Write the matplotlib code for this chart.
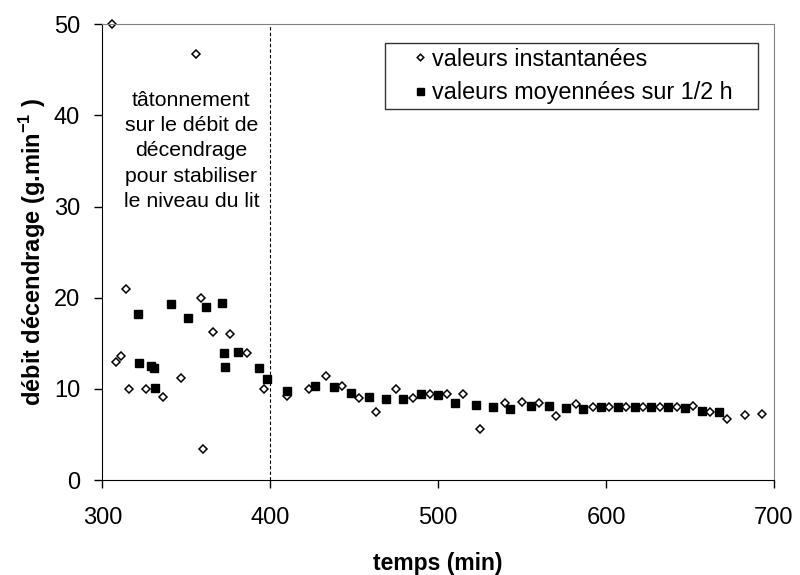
import numpy as np
import matplotlib
matplotlib.use("Agg")
import matplotlib.pyplot as plt

# valeurs instantanees (losanges)
inst_t = [306, 308, 311, 314, 316, 326, 336, 347, 356, 359, 360, 366, 376, 386, 396,
          410, 423, 433, 443, 453, 463, 475, 485, 495, 505, 515, 525, 540, 550, 560,
          570, 582, 592, 602, 612, 622, 632, 642, 652, 662, 672, 683, 693]
inst_v = [50.0, 13.0, 13.6, 21.0, 10.0, 10.0, 9.1, 11.2, 46.7, 20.0, 3.45, 16.2, 16.0, 13.9, 10.0,
          9.2, 10.0, 11.4, 10.3, 9.0, 7.5, 10.0, 9.0, 9.4, 9.45, 9.45, 5.6, 8.5, 8.6, 8.5,
          7.0, 8.3, 8.0, 8.0, 8.0, 8.0, 8.0, 8.0, 8.1, 7.45, 6.75, 7.15, 7.3]

# valeurs moyennees sur 1/2 h (carres)
avg_t = [321, 322, 329, 330.5, 331.5, 341, 351, 361.5, 371, 372.5, 373, 381, 393, 398, 410,
         426.5, 438, 448, 459, 469, 479, 490, 500, 510, 522.5, 532.5, 542.5, 555, 566, 576,
         586, 597, 607, 617, 627, 637, 647, 657, 667]
avg_v = [18.2, 12.8, 12.5, 12.3, 10.1, 19.3, 17.8, 19.0, 19.4, 13.9, 12.4, 14.0, 12.3, 11.1, 9.8,
         10.3, 10.2, 9.6, 9.15, 8.9, 8.95, 9.45, 9.35, 8.5, 8.25, 8.0, 7.8, 8.15, 8.1, 7.95,
         7.8, 8.05, 8.0, 8.0, 8.0, 8.05, 7.9, 7.6, 7.45]

x_ticks = [300, 400, 500, 600, 700]
y_ticks = [0, 10, 20, 30, 40, 50]
t_limit = 400

plt.rcParams['font.family'] = ['Liberation Sans', 'DejaVu Sans']
plt.rcParams['mathtext.fontset'] = 'custom'
plt.rcParams['mathtext.rm'] = 'Liberation Sans'
plt.rcParams['mathtext.bf'] = 'Liberation Sans:bold'

fig = plt.figure(figsize=(8, 5.75), dpi=100)
ax = fig.add_axes([0.128, 0.165, 0.8395, 0.793])

ax.plot(inst_t, inst_v, linestyle='none', marker='D', ms=4.2, mfc='white',
        mec='black', mew=1.1, label='valeurs instantanées', clip_on=False)
ax.plot(avg_t, avg_v, linestyle='none', marker='s', ms=6.3, mfc='black',
        mec='black', label='valeurs moyennées sur 1/2 h')

ax.axvline(t_limit, color='black', lw=0.8, linestyle=(0, (3, 2)))

ax.text(353, 36.1, "tâtonnement\nsur le débit de\ndécendrage\npour stabiliser\nle niveau du lit",
        ha='center', va='center', fontsize=15.3, linespacing=1.42)

ax.set_xlim(300, 700)
ax.set_ylim(0, 50)
ax.set_xticks(x_ticks)
ax.set_yticks(y_ticks)
ax.tick_params(axis='both', direction='out', length=6, width=1, labelsize=17, pad=10)
ax.tick_params(axis='x', pad=13)

for s in ['left', 'bottom']:
    ax.spines[s].set_color('black')
for s in ['top', 'right']:
    ax.spines[s].set_color('#808080')

ax.set_xlabel('temps (min)', fontsize=16.5, fontweight='bold', labelpad=17)
ax.set_ylabel(r'débit décendrage (g.min$^{\mathbf{-1}}$ )', fontsize=17, fontweight='bold', labelpad=4)

leg = ax.legend(loc='upper left', bbox_to_anchor=(0.421, 0.808, 0.555, 0.151), mode='expand',
                borderaxespad=0, fontsize=16.8, frameon=True, fancybox=False,
                edgecolor='black', handlelength=2.6, handletextpad=-0.8,
                borderpad=0.2, labelspacing=0.45, markerscale=0.8)
leg.get_frame().set_linewidth(1.0)

fig.savefig('out.png', dpi=100)
